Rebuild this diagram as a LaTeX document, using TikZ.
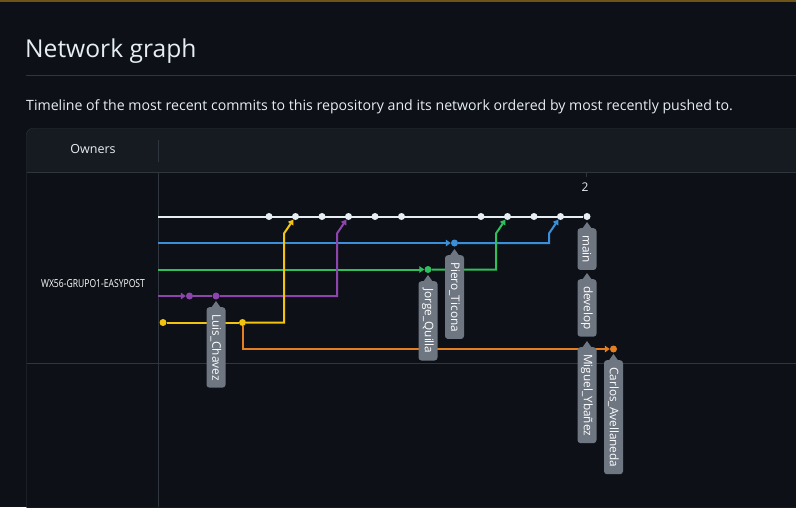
\documentclass[tikz,border=0pt]{standalone}
\usepackage{fontspec}
\setmainfont{Open Sans}
\usetikzlibrary{calc}
\usetikzlibrary{arrows.meta}
\usetikzlibrary{backgrounds}

\definecolor{cbg}{HTML}{0D1117}
\definecolor{chead}{HTML}{161B22}
\definecolor{cbord}{HTML}{30363D}
\definecolor{ctext}{HTML}{E6EDF3}
\definecolor{ctop}{HTML}{6E5417}
\definecolor{cwht}{HTML}{E6EDF3}
\definecolor{cblu}{HTML}{3A8FD8}
\definecolor{cgrn}{HTML}{2FBF5C}
\definecolor{cpur}{HTML}{8E44AD}
\definecolor{cyel}{HTML}{F2C40F}
\definecolor{corg}{HTML}{E67E22}
\definecolor{ctag}{HTML}{6E7681}

\tikzset{
  commit/.style={circle, fill=#1, inner sep=0pt, minimum size=7pt},
  branch/.style={line width=2pt, draw=#1},
  tip/.style={-{Triangle[length=5pt,width=6.5pt]}},
  tag/.style={fill=ctag, text=white, rounded corners=3pt, rotate=-90, anchor=west,
    inner xsep=7pt, inner ysep=0pt, minimum height=19pt, font=\fontsize{11.8}{13}\selectfont},
}
\newcommand{\branchtag}[3]{%
  \node[tag] (#1) at (#2) {#3};
  \fill[ctag] (#1.west) +(-5,1) -- +(0,-6) -- +(5,1) -- cycle;
}

\begin{document}
\begin{tikzpicture}[x=1pt, y=-1pt]
\useasboundingbox (0,0) rectangle (796,507);
\begin{scope}[on background layer]
\fill[cbg] (0,0) rectangle (796,507);
\fill[ctop] (0,0) rectangle (796,1.5);
\draw[cbord] (26,75.5) -- (796,75.5);
% panel
\path[fill=chead, draw=cbord, rounded corners=6pt] (26.5,128.5) rectangle (830,540);
\fill[cbg] (27.2,172) rectangle (796,507);
\draw[cbord] (26.5,172.5) -- (796,172.5);
\draw[cbord] (26.5,363.5) -- (796,363.5);
\draw[cbord] (158.5,172) -- (158.5,507);
\draw[cbord] (158.5,140) -- (158.5,162);
\draw[cbord] (586,172) -- (586,177);
\end{scope}

% texts
\node[anchor=base west, inner sep=0pt, text=ctext, font=\fontsize{24.6}{28}\selectfont] (title) at (25,57) {Network graph};
\node[anchor=base west, inner sep=0pt, text=ctext, font=\fontsize{14.15}{16}\selectfont] (subtitle) at (26,110) {Timeline of the most recent commits to this repository and its network ordered by most recently pushed to.};
\node[text=ctext, font=\fontsize{12.5}{15}\selectfont] (owners) at (93,149) {Owners};
\node[text=white, font=\fontsize{11}{13}\selectfont] (repo) at (93,284) {\scalebox{0.78}[1]{WX56-GRUPO1-EASYPOST}};
\node[text=ctext, font=\fontsize{12}{14}\selectfont] (num) at (585,187) {2};

% commits
\foreach \i in {4,5,6,7,8,9,12,13,14,15,16} {
  \node[commit=cwht] (m\i) at (163+26.5*\i,216.5) {};
}
\node[commit=cblu] (b11) at (454.5,243) {};
\node[commit=cgrn] (g10) at (428,269.5) {};
\node[commit=cpur] (p1) at (189.5,296) {};
\node[commit=cpur] (p2) at (216,296) {};
\node[commit=cyel] (y0) at (163,322.5) {};
\node[commit=cyel] (y3) at (242.5,322.5) {};
\node[commit=corg] (c17) at (613.5,349) {};

\coordinate (wstart) at (158,216.5);
\coordinate (bstart) at (158,243);
\coordinate (gstart) at (158,269.5);
\coordinate (pstart) at (158,296);

% branches
\begin{scope}[on background layer]
\draw[branch=cwht] (wstart) -- (m16);
\draw[branch=cblu, tip] (bstart) -- (b11);
\draw[branch=cblu, tip] (b11) -| ($(m15)+(-11.5,17)$) -- (m15);
\draw[branch=cgrn, tip] (gstart) -- (g10);
\draw[branch=cgrn, tip] (g10) -| ($(m13)+(-11.5,17)$) -- (m13);
\draw[branch=cpur, tip] (pstart) -- (p1);
\draw[branch=cpur] (p1) -- (p2);
\draw[branch=cpur, tip] (p2) -| ($(m7)+(-11.5,17)$) -- (m7);
\draw[branch=cyel] (y0) -- (y3);
\draw[branch=cyel, tip] (y3) -| ($(m5)+(-11.5,17)$) -- (m5);
\draw[branch=corg, tip] (y3) |- (c17);
\end{scope}

% branch tags
\branchtag{tluis}{216,307}{Luis\_Chavez}
\branchtag{tjorge}{428,281}{Jorge\_Quilla}
\branchtag{tpiero}{454.5,255}{Piero\_Ticona}
\branchtag{tmain}{587,228}{main}
\branchtag{tdevelop}{587,279}{develop}
\branchtag{tmiguel}{587,347}{Miguel\_Ybañez}
\branchtag{tcarlos}{613.5,360}{Carlos\_Avellaneda}
\end{tikzpicture}
\end{document}
